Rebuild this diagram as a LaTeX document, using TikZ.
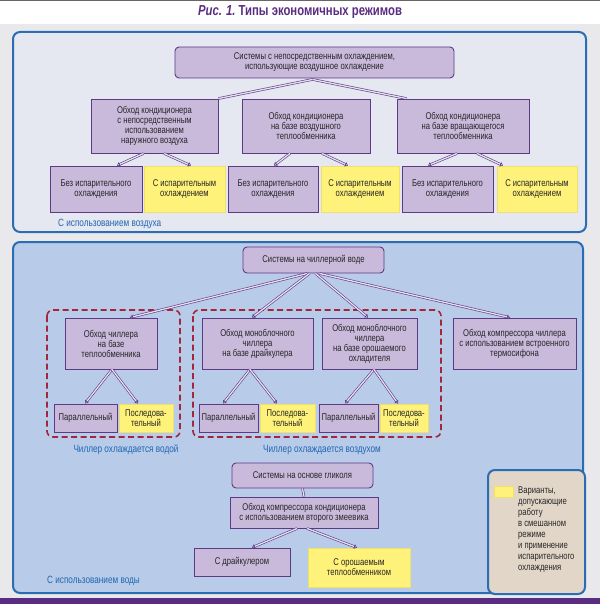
\documentclass[tikz,border=0pt]{standalone}
\usepackage{fontspec}
\setmainfont{Liberation Sans}[FakeStretch=0.78]
\usetikzlibrary{arrows.meta,calc}
\definecolor{bggrey}{HTML}{E9E9EB}
\definecolor{toppanel}{HTML}{E5E7F1}
\definecolor{midpanel}{HTML}{B8CCE9}
\definecolor{bblue}{HTML}{2A6DB5}
\definecolor{lav}{HTML}{C9B9DB}
\definecolor{pborder}{HTML}{5C3A86}
\definecolor{ylw}{HTML}{FFF27A}
\definecolor{ylwb}{HTML}{EEDF6E}
\definecolor{dred}{HTML}{A3263E}
\definecolor{lblue}{HTML}{2166B0}
\definecolor{beige}{HTML}{E2D6C8}
\definecolor{tpurple}{HTML}{5A2D82}
\definecolor{txt}{HTML}{262626}
\tikzset{
  every node/.style={font=\fontsize{9.8}{10}\selectfont, text=txt},
  lbox/.style={draw=pborder, fill=lav, line width=0.9pt, align=center, inner sep=0pt},
  rbox/.style={lbox, rounded corners=4pt},
  ybox/.style={draw=ylwb, fill=ylw, line width=0.8pt, align=center, inner sep=0pt},
  conn/.style={draw=pborder, line width=0.6pt, double=white!55!lav, double distance=1.3pt},
  arr/.style={conn, -{Triangle[open, length=3pt, width=4.5pt]}},
  panel/.style={draw=bblue, line width=2pt, rounded corners=7pt},
  dbox/.style={draw=dred, line width=1.6pt, dash pattern=on 6pt off 3.5pt, rounded corners=6pt},
  lbl/.style={text=lblue, font=\fontsize{10.5}{11}\selectfont, inner sep=0pt},
}
\begin{document}
\begin{tikzpicture}[x=1pt,y=-1pt]
\useasboundingbox (0,0) rectangle (600,604);
\fill[bggrey] (0,0) rectangle (600,604);
\fill[white] (0,1.5) rectangle (600,24);
\fill[black!60] (0,0) rectangle (600,1.5);
\fill[tpurple] (0,598) rectangle (600,604);
\node[text=tpurple, font=\fontsize{14.5}{15}\selectfont\bfseries] (title) at (300,12.5) {\itshape Рис. 1.\upshape\ Типы экономичных режимов};
% top panel
\draw[panel, fill=toppanel] (13,32) rectangle (586,232);
\node[rbox, minimum width=279, minimum height=31] (root1) at (314.5,62.5) {Системы с непосредственным охлаждением,\\использующие воздушное охлаждение};
\node[lbox, minimum width=127, minimum height=54] (A) at (154.5,126) {Обход кондиционера\\с непосредственным\\использованием\\наружного воздуха};
\node[lbox, minimum width=128, minimum height=54] (B) at (306,126) {Обход кондиционера\\на базе воздушного\\теплообменника};
\node[lbox, minimum width=132, minimum height=54] (C) at (463,126) {Обход кондиционера\\на базе вращающегося\\теплообменника};
\node[lbox, minimum width=92, minimum height=46] (A1) at (96,189) {Без испарительного\\охлаждения};
\node[ybox, minimum width=81, minimum height=46] (A2) at (184.5,189) {С испарительным\\охлаждением};
\node[lbox, minimum width=90, minimum height=46] (B1) at (273,189) {Без испарительного\\охлаждения};
\node[ybox, minimum width=78, minimum height=46] (B2) at (360,189) {С испарительным\\охлаждением};
\node[lbox, minimum width=91, minimum height=46] (C1) at (447.5,189) {Без испарительного\\охлаждения};
\node[ybox, minimum width=80, minimum height=46] (C2) at (537,189) {С испарительным\\охлаждением};
\node[lbl, anchor=west] (airlbl) at (58,224) {С использованием воздуха};
\draw[conn] ($(root1.south)+(-2,1)$) -- (A.north east);
\draw[conn] ($(root1.south)+(-2,1)$) -- ($(C.north west)+(10,0)$);
\draw[arr] ($(A.south)+(-11,0)$) -- ($(A1.north)+(21,0)$);
\draw[arr] ($(A.south)+(9.5,0)$) -- ($(A2.north)+(6.5,0)$);
\draw[arr] ($(B.south)+(-16,0)$) -- ($(B1.north)+(1,0)$);
\draw[arr] ($(B.south)+(16,0)$) -- ($(B2.north)+(-12,0)$);
\draw[arr] ($(C.south)+(-6,0)$) -- ($(C1.north)+(-19.5,0)$);
\draw[arr] ($(C.south)+(14,0)$) -- ($(C2.north)+(-34,0)$);
% middle panel
\draw[panel, fill=midpanel] (13,242) rectangle (583,593);
\draw[dbox] (47,310) rectangle (180,437);
\draw[dbox] (193,310) rectangle (441,437);
\node[rbox, minimum width=141, minimum height=26] (root2) at (313.5,260) {Системы на чиллерной воде};
\node[lbox, minimum width=92, minimum height=51] (W1) at (111,343.5) {Обход чиллера\\на базе\\теплообменника};
\node[lbox, minimum width=111, minimum height=51] (W2) at (257.5,343.5) {Обход моноблочного\\чиллера\\на базе драйкулера};
\node[lbox, minimum width=95, minimum height=51] (W3) at (369.5,343.5) {Обход моноблочного\\чиллера\\на базе орошаемого\\охладителя};
\node[lbox, minimum width=123, minimum height=51] (W4) at (514.5,343.5) {Обход компрессора чиллера\\с использованием встроенного\\термосифона};
\node[lbox, minimum width=63, minimum height=28] (P1) at (85.5,418) {Параллельный};
\node[ybox, minimum width=54, minimum height=28] (Q1) at (146,418) {Последова-\\тельный};
\node[lbox, minimum width=59, minimum height=28] (P2) at (228.5,418) {Параллельный};
\node[ybox, minimum width=55, minimum height=28] (Q2) at (287.5,418) {Последова-\\тельный};
\node[lbox, minimum width=59, minimum height=28] (P3) at (348.5,418) {Параллельный};
\node[ybox, minimum width=48, minimum height=28] (Q3) at (404,418) {Последова-\\тельный};
\draw[arr] ($(root2.south)+(-6,0)$) -- ($(W1.north)+(19,0)$);
\draw[arr] ($(root2.south)+(-4,0)$) -- ($(W2.north)+(-5.5,0)$);
\draw[arr] ($(root2.south)+(2,0)$) -- ($(W3.north)+(-1.5,0)$);
\draw[arr] ($(root2.south)+(6,0)$) -- ($(W4.north)+(-4.5,0)$);
\draw[arr] ($(W1.south)+(1,0)$) -- ($(P1.north)+(-0.5,0)$);
\draw[arr] ($(W1.south)+(1,0)$) -- ($(Q1.north)+(-8,0)$);
\draw[arr] ($(W2.south)+(-7.5,0)$) -- ($(P2.north)+(-5.5,0)$);
\draw[arr] ($(W2.south)+(-7.5,0)$) -- ($(Q2.north)+(-10.5,0)$);
\draw[arr] ($(W3.south)+(4.5,0)$) -- ($(P3.north)+(-3.5,0)$);
\draw[arr] ($(W3.south)+(4.5,0)$) -- ($(Q3.north)+(-6,0)$);
\node[lbl] (waterlbl) at (126,450) {Чиллер охлаждается водой};
\node[lbl] (aircool) at (322,450) {Чиллер охлаждается воздухом};
% glycol
\node[rbox, minimum width=141, minimum height=25] (G) at (302.5,475.5) {Системы на основе гликоля};
\node[lbox, minimum width=148, minimum height=31] (H) at (304,512.5) {Обход компрессора кондиционера\\с использованием второго змеевика};
\node[lbox, minimum width=96, minimum height=28] (L1) at (242,562) {С драйкулером};
\node[ybox, minimum width=102, minimum height=39] (L2) at (359,567.5) {С орошаемым\\теплообменником};
\draw[conn] (G.south) -- (H.north);
\draw[arr] ($(H.south)+(-7,0)$) -- ($(L1.north)+(10,0)$);
\draw[arr] ($(H.south)+(3,0)$) -- ($(L2.north)+(-2,0)$);
\node[lbl, anchor=west] (wlbl) at (47,581) {С использованием воды};
% legend
\draw[panel, fill=beige] (488,470) rectangle (585,594);
\node[ybox, minimum width=19, minimum height=11] (sw) at (503.5,491.5) {};
\node[anchor=north west, align=left, inner sep=0pt, font=\fontsize{9.8}{11}\selectfont] (legtxt) at (518,487) {Варианты,\\допускающие\\работу\\в смешанном\\режиме\\и применение\\испарительного\\охлаждения};
\end{tikzpicture}
\end{document}
